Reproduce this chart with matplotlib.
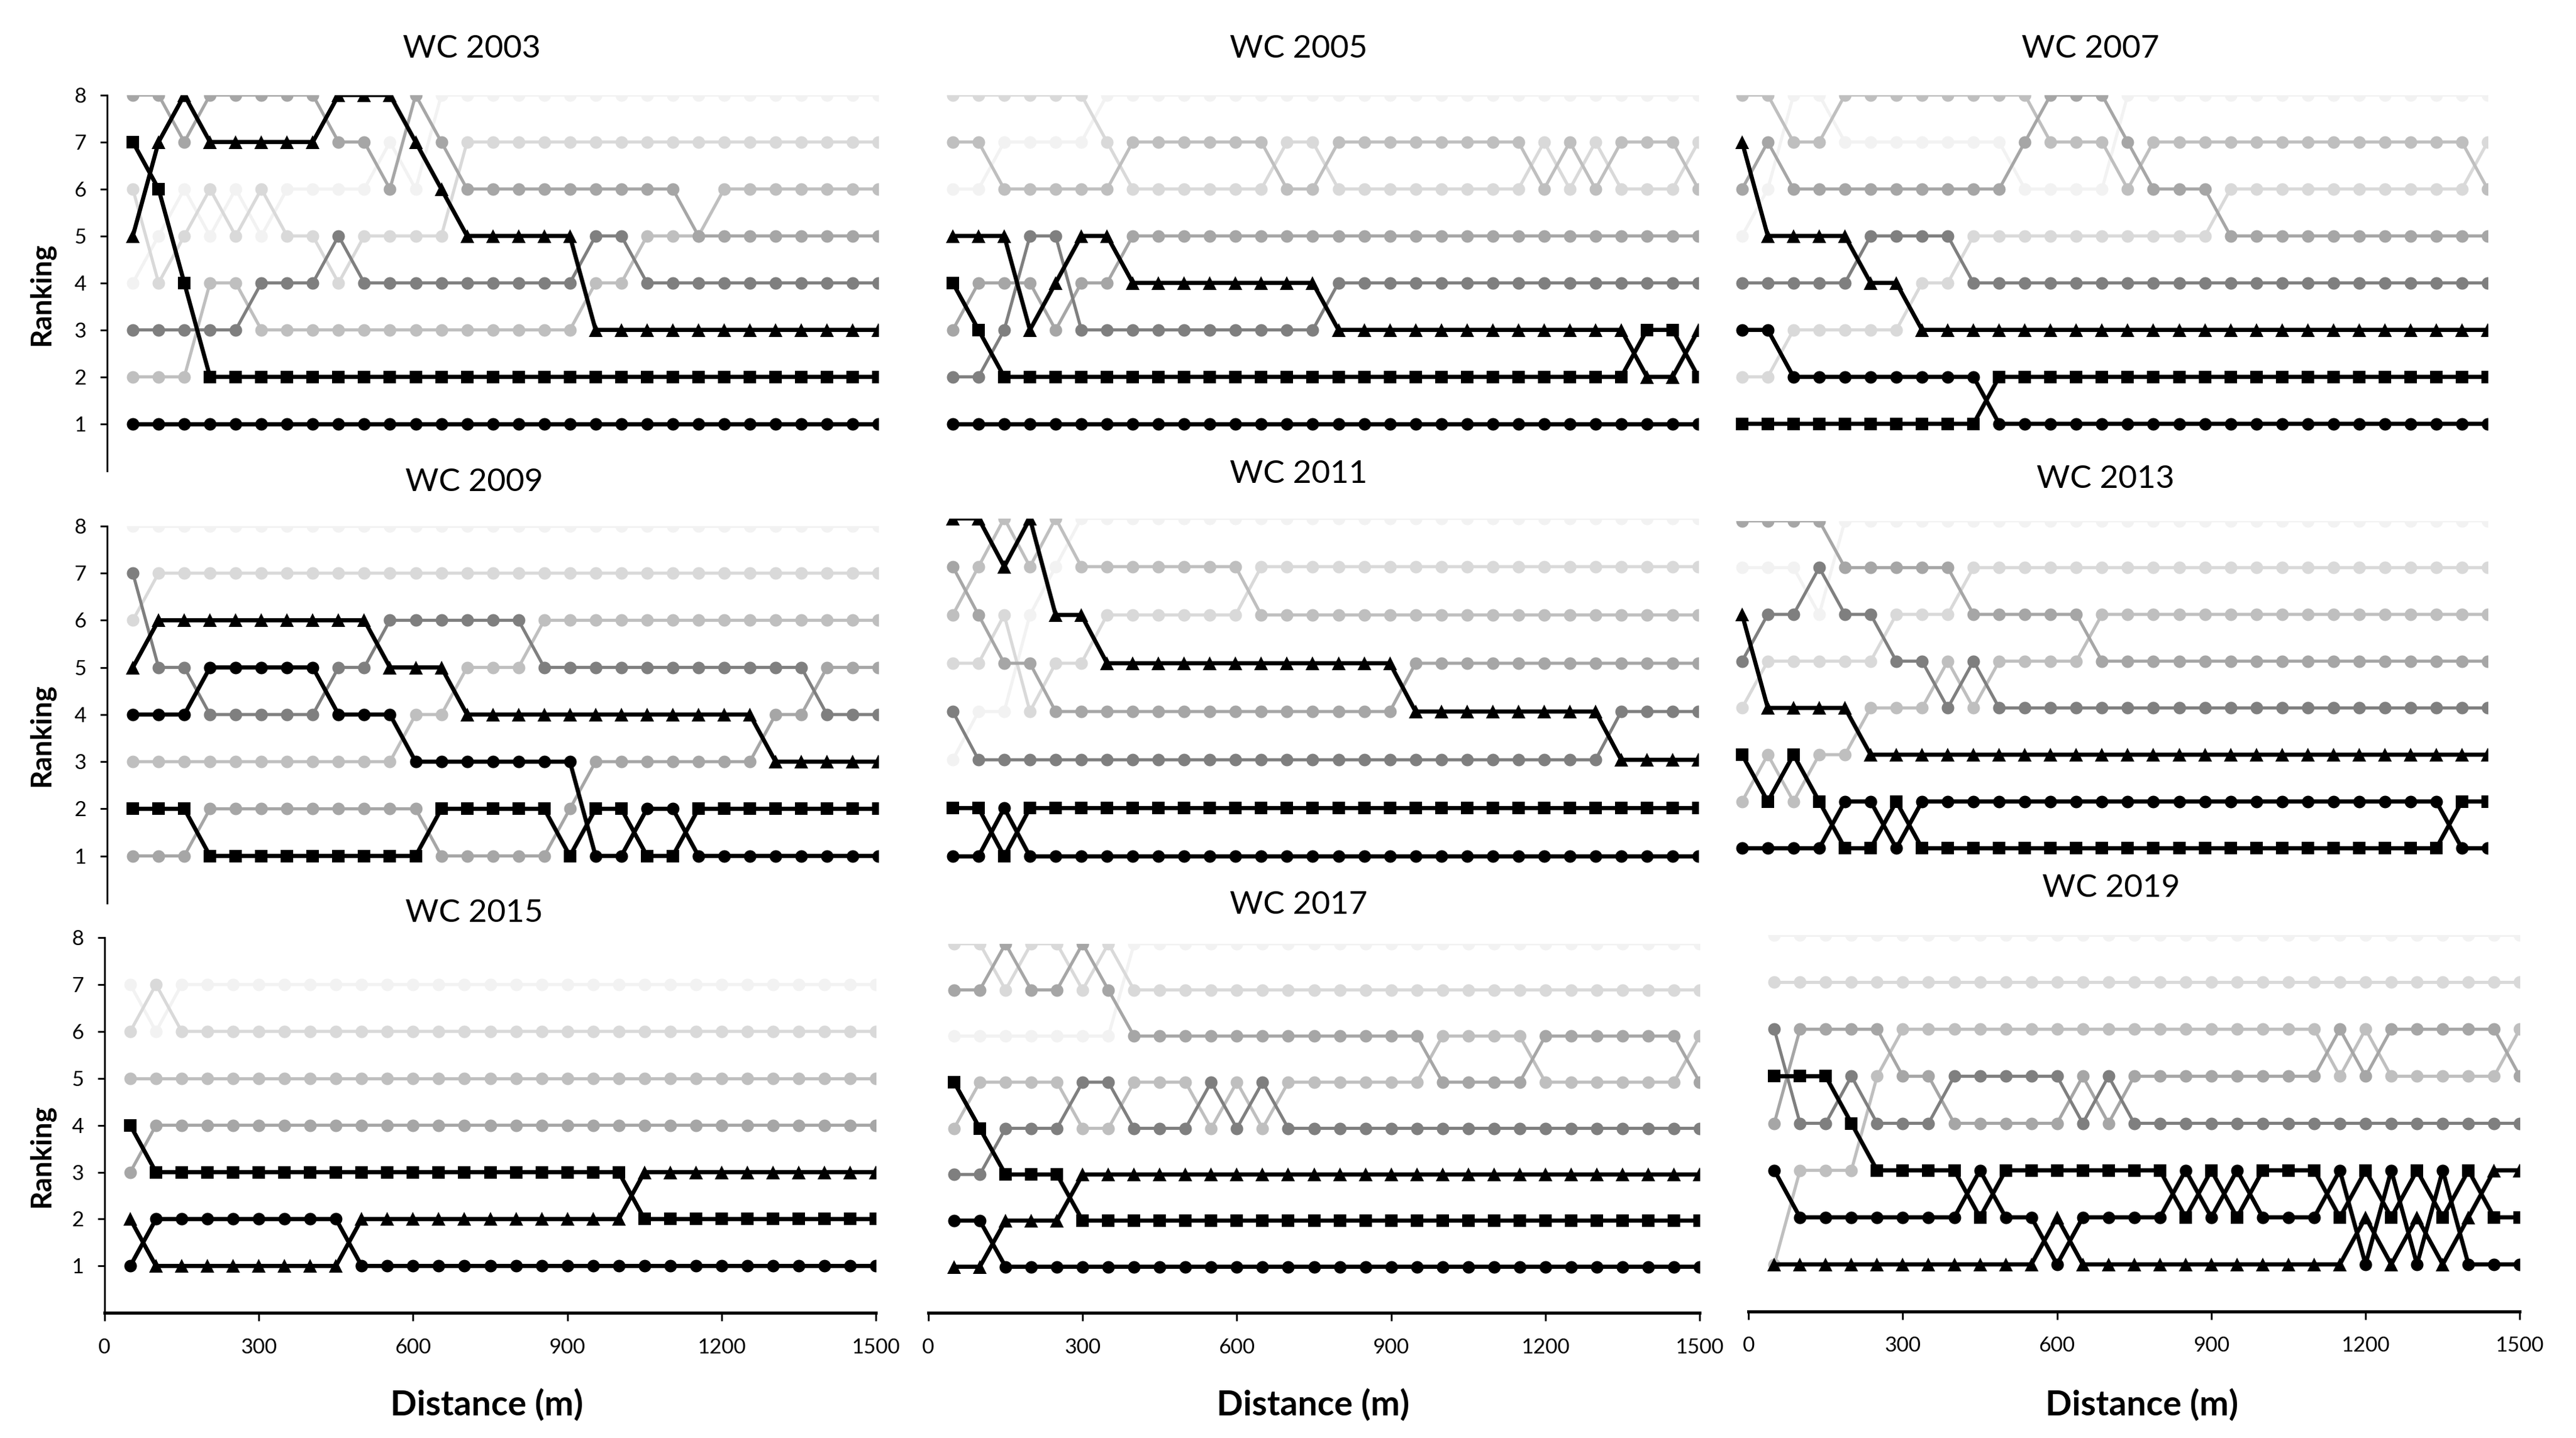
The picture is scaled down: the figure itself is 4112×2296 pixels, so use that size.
import matplotlib
matplotlib.use("Agg")
import matplotlib.pyplot as plt

plt.rcParams['font.family'] = ['Lato', 'DejaVu Sans']

# 50 m split points
distance = list(range(50, 1501, 50))

# ranking at each split, one string per swimmer:
# gold, silver, bronze, then 4th ... last (as finished)
wc2003 = [
    "1" * 30,
    "764" + "2" * 27,
    "578" + "77777" + "888" + "7" + "6" + "55555" + "3" * 12,
    "3" + "3333" + "444" + "5" + "4" * 9 + "55" + "4" * 10,
    "88" + "7" + "88888" + "77" + "6" + "8" + "7" + "6" * 9 + "5" * 8,
    "222" + "44" + "3" * 13 + "44" + "555" + "6" * 7,
    "6" + "4" + "5" + "6" + "5" + "6" + "55" + "4" + "5555" + "7" * 17,
    "4" + "5" + "6" + "5" + "6" + "5" + "6666" + "7" + "6" + "8" * 18,
]
wc2005 = [
    "1" * 30,
    "4" + "3" + "2" * 25 + "33" + "2",
    "555" + "3" + "4" + "55" + "4" * 8 + "3" * 12 + "22" + "3",
    "22" + "3" + "55" + "3" * 10 + "4" * 15,
    "3" + "444" + "3" + "44" + "5" * 23,
    "77" + "66666" + "777777" + "66" + "7" * 8 + "6" + "7" + "6" + "777" + "6",
    "888888" + "7" + "666666" + "77" + "6" * 8 + "7" + "6" + "7" + "666" + "7",
    "66" + "7777" + "8" * 24,
]
wc2007 = [
    "33" + "2" * 8 + "1" * 20,
    "1" * 10 + "2" * 20,
    "7" + "5555" + "44" + "3" * 23,
    "44444" + "5555" + "4" * 21,
    "6" + "7" + "6" * 9 + "7" + "888" + "7" + "666" + "5" * 11,
    "88" + "77" + "8" * 8 + "777" + "6" + "7" * 13 + "6",
    "22" + "33333" + "44" + "5" * 10 + "6" * 10 + "7",
    "5" + "6" + "88" + "7" * 7 + "6666" + "8" * 15,
]
wc2009 = [
    "444" + "55555" + "444" + "3" * 7 + "11" + "22" + "1" * 8,
    "222" + "1" * 9 + "22222" + "1" + "22" + "11" + "2" * 8,
    "5" + "6" * 9 + "555" + "4" * 12 + "3" * 5,
    "7" + "55" + "44444" + "55" + "666666" + "5" * 11 + "444",
    "111" + "2" * 9 + "11111" + "2" + "3" * 7 + "44" + "555",
    "3" * 11 + "44" + "555" + "6" * 14,
    "6" + "7" * 29,
    "8" * 30,
]
wc2011 = [
    "11" + "2" + "1" * 27,
    "22" + "1" + "2" * 27,
    "88" + "7" + "8" + "66" + "5" * 12 + "4" * 8 + "3" * 4,
    "4" + "3" * 25 + "4444",
    "7" + "6" + "55" + "4" * 14 + "5" * 12,
    "6" + "7" + "8" + "7" + "8" + "7" * 7 + "6" * 18,
    "55" + "6" + "4" + "55" + "6" * 6 + "7" * 18,
    "3" + "44" + "6" + "7" + "8" * 25,
]
wc2013 = [
    "1111" + "22" + "1" + "2" * 21 + "11",
    "3" + "2" + "3" + "2" + "11" + "2" + "1" * 21 + "22",
    "6" + "4444" + "3" * 25,
    "5" + "66" + "7" + "66" + "55" + "4" + "5" + "4" * 20,
    "8888" + "77777" + "66666" + "5" * 16,
    "2" + "3" + "2" + "3" + "3" + "444" + "5" + "4" + "5555" + "6" * 16,
    "4" + "55555" + "666" + "7" * 21,
    "777" + "6" + "8" * 26,
]
wc2015 = [
    "1" + "2" * 8 + "1" * 21,
    "4" + "3" * 19 + "2" * 10,
    "2" + "1" * 8 + "2" * 11 + "3" * 10,
    "3" + "4" * 29,
    "5" * 30,
    "6" + "7" + "6" * 28,
    "7" + "6" + "7" * 28,
]
wc2017 = [
    "22" + "1" * 28,
    "5" + "4" + "333" + "2" * 25,
    "11" + "222" + "3" * 25,
    "33" + "444" + "55" + "444" + "5" + "4" + "5" + "4" * 17,
    "77" + "8" + "77" + "8" + "7" + "6" * 12 + "5555" + "666666" + "5",
    "4" + "5" + "555" + "44" + "555" + "4" + "5" + "4" + "555555" + "6666" + "555555" + "6",
    "88" + "7" + "88" + "7" + "8" + "7" * 23,
    "6" * 7 + "8" * 23,
]
wc2019 = [
    "3" + "2" * 7 + "3" + "22" + "1" + "2222" + "3" + "2" + "3" + "222" + "3" + "1" + "3" + "1" + "3" + "111",
    "555" + "4" + "3333" + "2" + "3" * 7 + "2" + "3" + "2" + "333" + "2" + "3" + "2" + "3" + "2" + "3" + "22",
    "1" * 11 + "2" + "1" * 11 + "2" + "1" + "2" + "1" + "2" + "33",
    "6" + "44" + "5" + "444" + "55555" + "4" + "5" + "4" * 16,
    "4" + "6666" + "55" + "44444" + "5" + "4" + "5" * 8 + "6" + "5" + "66666" + "5",
    "1" + "333" + "5" + "6" * 17 + "5" + "6" + "55555" + "6",
    "7" * 30,
    "8" * 30,
]

titles = ["WC 2003", "WC 2005", "WC 2007", "WC 2009", "WC 2011",
          "WC 2013", "WC 2015", "WC 2017", "WC 2019"]
races = [wc2003, wc2005, wc2007, wc2009, wc2011, wc2013, wc2015, wc2017, wc2019]

# axes rectangles (figure fraction) and title centres
rects = [
    [0.0416, 0.6726, 0.2994, 0.2613], [0.3599, 0.6726, 0.2994, 0.2613], [0.6663, 0.6726, 0.2994, 0.2613],
    [0.0416, 0.3720, 0.2994, 0.2622], [0.3599, 0.3709, 0.2994, 0.2686], [0.6663, 0.3776, 0.2994, 0.2602],
    [0.0406, 0.0870, 0.2994, 0.2610], [0.3604, 0.0870, 0.2994, 0.2567], [0.6788, 0.0880, 0.2994, 0.2617],
]
title_pos = [(0.183, 0.966), (0.504, 0.966), (0.8116, 0.966),
             (0.184, 0.6647), (0.504, 0.6704), (0.8174, 0.667),
             (0.184, 0.365), (0.504, 0.3707), (0.8196, 0.3824)]

medal_markers = ['o', 's', '^']
medal_sizes = [7.2, 7.0, 8.0]
gray_shades = ['#7f7f7f', '#a6a6a6', '#bfbfbf', '#d9d9d9', '#f2f2f2']

fig = plt.figure(figsize=(20.56, 11.48), dpi=200)

for i, (race, rect) in enumerate(zip(races, rects)):
    ax = fig.add_axes(rect)
    n_gray = len(race) - 3
    shades = gray_shades[5 - n_gray:]

    # grays first (lightest at the back), medallists on top
    for j in range(len(race) - 1, 2, -1):
        ranks = [int(c) for c in race[j]]
        col = shades[j - 3]
        ax.plot(distance, ranks, color=col, lw=1.8, marker='o', ms=7.2,
                mfc=col, mec=col, mew=0, zorder=2 + (len(race) - j) * 0.1)
    for j in (2, 1, 0):
        ranks = [int(c) for c in race[j]]
        ax.plot(distance, ranks, color='black', lw=2.4, marker=medal_markers[j],
                ms=medal_sizes[j], mfc='black', mec='black', mew=0, zorder=5 + (3 - j))

    ax.set_xlim(0, 1500)
    ax.set_ylim(0, 8)
    for s in ('top', 'right'):
        ax.spines[s].set_visible(False)

    col_idx = i % 3
    row_idx = i // 3

    if col_idx == 0:
        ax.set_yticks(range(1, 9))
        ax.tick_params(axis='y', direction='out', length=4, width=1, pad=8, labelsize=12)
        ax.spines['left'].set_linewidth(1.0)
    else:
        ax.spines['left'].set_visible(False)
        ax.set_yticks([])

    if row_idx == 2:
        ax.set_xticks(range(0, 1501, 300))
        ax.tick_params(axis='x', direction='out', length=4.5, width=1, pad=10, labelsize=12)
        ax.spines['bottom'].set_linewidth(1.8)
    else:
        ax.spines['bottom'].set_visible(False)
        ax.set_xticks([])

    fig.text(title_pos[i][0], title_pos[i][1], titles[i], fontsize=18.5,
             ha='center', va='center')

for yc in (0.7957, 0.489, 0.196):
    fig.text(0.016, yc, "Ranking", rotation=90, fontsize=16.5, fontweight='bold',
             ha='center', va='center')
for xc in (0.189, 0.5097, 0.8315):
    fig.text(xc, 0.0231, "Distance (m)", fontsize=20, fontweight='bold',
             ha='center', va='center')

fig.savefig("out.png", dpi=200)
